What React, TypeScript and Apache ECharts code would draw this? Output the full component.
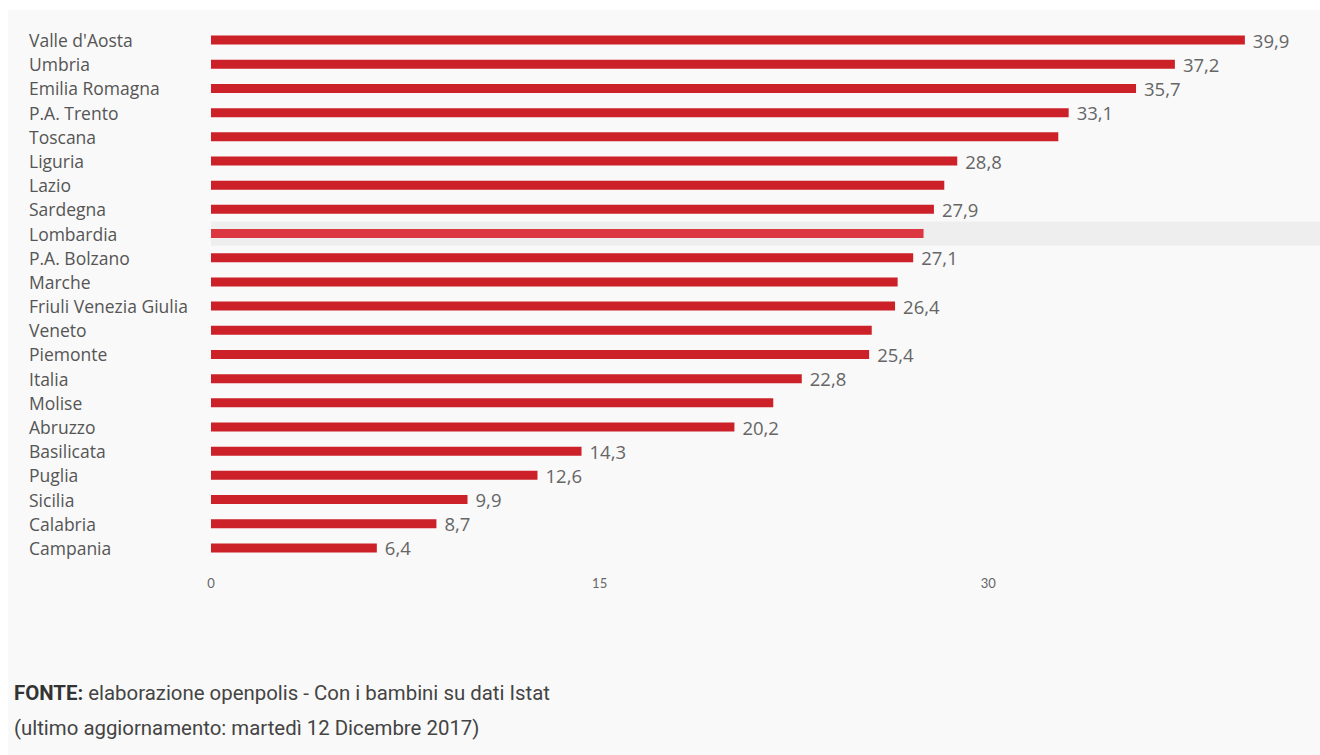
import React, { useEffect, useRef } from "react";
import * as echarts from "echarts";

const categories = [
  "Valle d'Aosta", "Umbria", "Emilia Romagna", "P.A. Trento", "Toscana", "Liguria",
  "Lazio", "Sardegna", "Lombardia", "P.A. Bolzano", "Marche", "Friuli Venezia Giulia",
  "Veneto", "Piemonte", "Italia", "Molise", "Abruzzo", "Basilicata", "Puglia",
  "Sicilia", "Calabria", "Campania",
];
const values = [
  39.9, 37.2, 35.7, 33.1, 32.7, 28.8, 28.3, 27.9, 27.5, 27.1, 26.5, 26.4,
  25.5, 25.4, 22.8, 21.7, 20.2, 14.3, 12.6, 9.9, 8.7, 6.4,
];
// whether the value label is visible in the original
const showLabel = [
  true, true, true, true, false, true, false, true, false, true, false, true,
  false, true, true, false, true, true, true, true, true, true,
];
const highlighted = "Lombardia";
const xTicks = [0, 15, 30];
const sourceBold = "FONTE:";
const sourceText = " elaborazione openpolis - Con i bambini su dati Istat";
const updateText = "(ultimo aggiornamento: martedì 12 Dicembre 2017)";

export default function App() {
  const ref = useRef<HTMLDivElement>(null);
  useEffect(() => {
    const chart = echarts.init(ref.current!, null, { renderer: "svg" });
    const hlIndex = categories.indexOf(highlighted);
    chart.setOption({
      animation: false,
      backgroundColor: "#f9f9f9",
      grid: { left: 203, top: 18, height: 532, right: 0, containLabel: false },
      axisPointer: { triggerOn: "none" },
      xAxis: {
        type: "value",
        min: 0,
        max: 42.8,
        interval: 15,
        axisLine: { show: false },
        axisTick: { show: false },
        splitLine: { show: false },
        axisLabel: {
          showMaxLabel: false,
          margin: 16,
          color: "#666",
          fontSize: 13,
          fontFamily: "Lato",
          formatter: (v: number) => (xTicks.includes(v) ? String(v) : ""),
        },
      },
      yAxis: {
        type: "category",
        data: categories,
        inverse: true,
        axisLine: { show: false },
        axisTick: { show: false },
        splitLine: { show: false },
        axisLabel: {
          align: "left",
          margin: 182,
          color: "#555",
          fontSize: 17.5,
          fontFamily: "Open Sans",
        },
        axisPointer: {
          show: true,
          type: "shadow",
          value: hlIndex,
          status: "show",
          triggerTooltip: false,
          label: { show: false },
          shadowStyle: { color: "rgba(0,0,0,0.045)" },
        },
      },
      series: [
        {
          type: "bar",
          barWidth: 9,
          data: values.map((v, i) => ({
            value: v,
            itemStyle: { color: categories[i] === highlighted ? "#e63a44" : "#cd2129" },
            label: { show: showLabel[i] },
          })),
          label: {
            position: "right",
            distance: 8,
            color: "#666",
            fontSize: 18.5,
            fontFamily: "Open Sans",
            formatter: (p: any) => String(p.value).replace(".", ","),
          },
        },
      ],
      graphic: [
        {
          type: "text",
          left: 6,
          top: 673,
          style: {
            text: "{b|" + sourceBold + "}" + sourceText,
            fill: "#444",
            font: "20.4px Roboto",
            rich: { b: { fontWeight: "bold", fontSize: 20.4, fontFamily: "Roboto", fill: "#333" } },
          },
        },
        {
          type: "text",
          left: 6,
          top: 708,
          style: { text: updateText, fill: "#444", font: "20.4px Roboto" },
        },
      ],
    });
    return () => chart.dispose();
  }, []);
  return (
    <div
      ref={ref}
      style={{ position: "fixed", left: 8, top: 10, width: 1312, height: 745 }}
    />
  );
}
